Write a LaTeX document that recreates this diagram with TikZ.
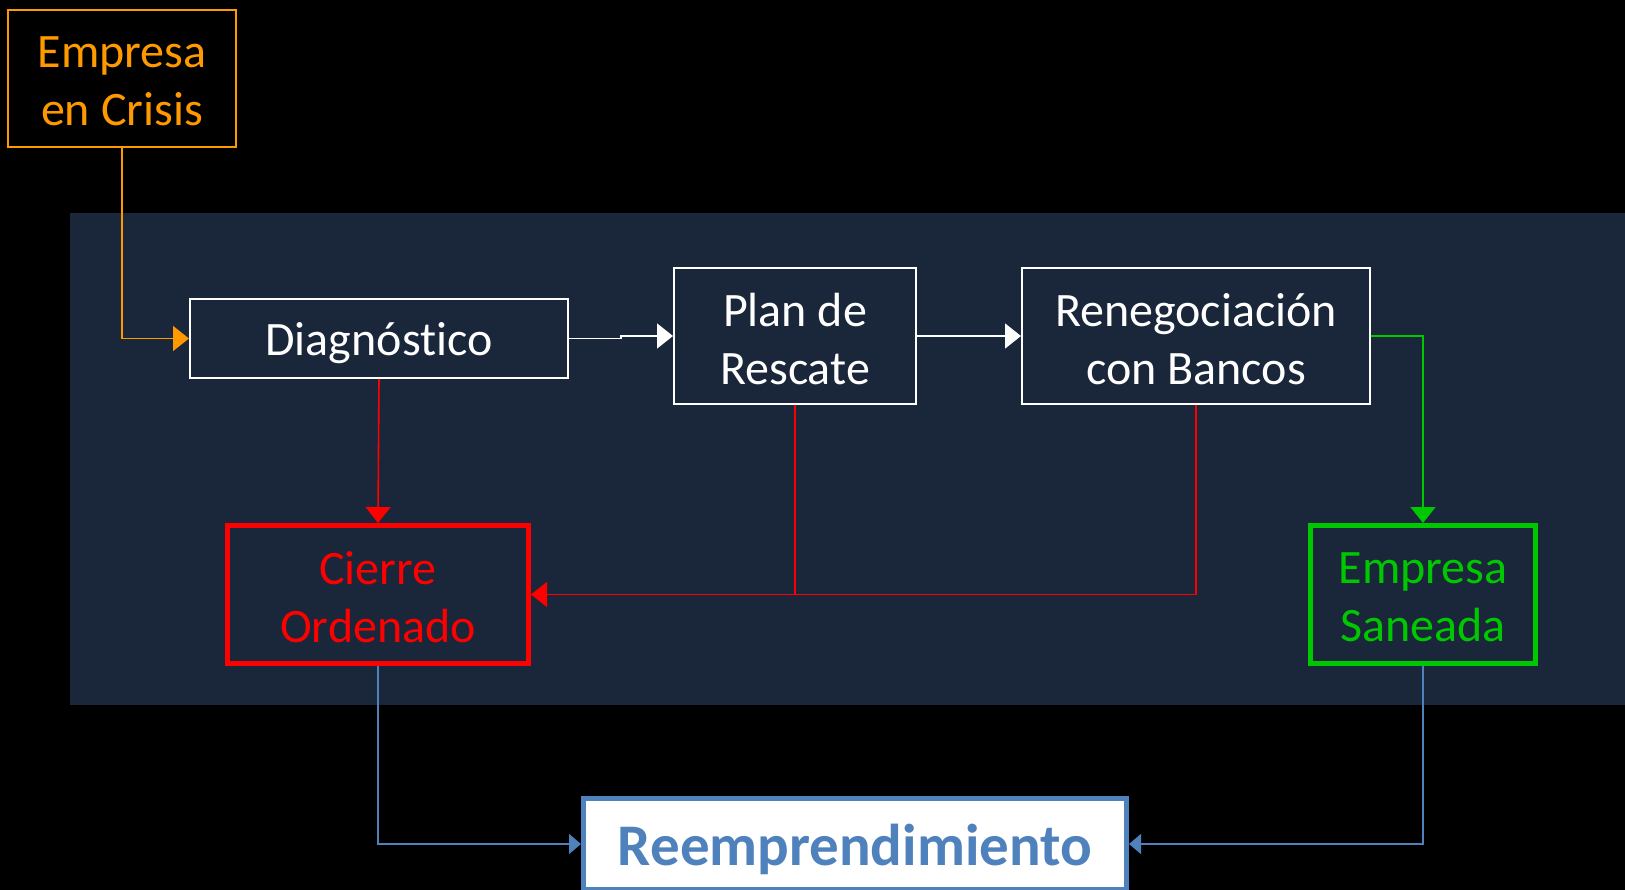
\documentclass[tikz,border=0pt]{standalone}
\usepackage{fontspec}
\setmainfont{Carlito}[Ligatures=NoCommon]
\usetikzlibrary{arrows.meta}
\definecolor{panel}{HTML}{1A2639}
\definecolor{corange}{HTML}{FF9900}
\definecolor{cred}{HTML}{FF0000}
\definecolor{cgreen}{HTML}{00C800}
\definecolor{cblue}{HTML}{4F81BD}
\newcommand{\lowerby}[2]{\raisebox{-#1}[\height][\depth]{#2}}
\tikzset{
  txt/.style={font=\fontsize{48}{58}\selectfont},
  box/.style={draw, inner sep=0pt, align=center, txt},
  whitebox/.style={box, draw=white, text=white, line width=2pt, fill=panel},
  thin/.style={line width=1.6pt},
  bigtip/.style={-{Triangle[length=16pt,width=25pt]}},
  smalltip/.style={-{Triangle[length=12pt,width=20pt]}},
}
\begin{document}
\begin{tikzpicture}[x=1pt,y=-1pt]
\useasboundingbox (0,0) rectangle (1625,890);
\fill[black] (0,0) rectangle (1625,890);
\fill[panel] (70,213) rectangle (1625,705);

\node[box, draw=corange, text=corange, line width=2pt, minimum width=228pt, minimum height=137pt] (crisis) at (122,78.5) {\lowerby{3pt}{Empresa}\\\lowerby{3pt}{en Crisis}};
\node[whitebox, minimum width=378pt, minimum height=79pt] (diag) at (379,338.5) {\lowerby{5pt}{Diagnóstico}};
\node[whitebox, minimum width=242pt, minimum height=136pt] (plan) at (795,336) {\lowerby{3pt}{Plan de}\\\lowerby{3pt}{Rescate}};
\node[whitebox, minimum width=348pt, minimum height=136pt] (reneg) at (1196,336) {\lowerby{3pt}{Renegociación}\\\lowerby{3pt}{con Bancos}};
\node[box, draw=cred, text=cred, line width=5pt, minimum width=301pt, minimum height=138pt] (cierre) at (378,594.5) {\lowerby{3pt}{Cierre}\\\lowerby{3pt}{Ordenado}};
\node[box, draw=cgreen, text=cgreen, line width=5pt, minimum width=225pt, minimum height=138pt] (saneada) at (1423,594.5) {\lowerby{3pt}{Empresa}\\\lowerby{3pt}{Saneada}};
\node[draw=cblue, fill=white, text=cblue, line width=5pt, inner sep=0pt, minimum width=543pt, minimum height=91pt, font=\fontsize{59}{70}\selectfont\bfseries] (reem) at (855,844) {\lowerby{5pt}{Reemprendimiento}};

\draw[thin, corange, bigtip] (crisis.south) |- (diag.west);
\draw[thin, white, bigtip] (diag.east) -- ++(52,0) |- (plan.west);
\draw[thin, white, bigtip] (plan.east) -- (reneg.west);
\draw[thin, cred, bigtip] (diag.south) -- (cierre.north);
\draw[thin, cred] (plan.south) |- (cierre.east);
\draw[thin, cred, bigtip] (reneg.south) |- (cierre.east);
\draw[thin, cgreen, bigtip] (reneg.east) -| (saneada.north);
\draw[thin, cblue, smalltip] (cierre.south) |- (reem.west);
\draw[thin, cblue, smalltip] (saneada.south) |- (reem.east);
\end{tikzpicture}
\end{document}
